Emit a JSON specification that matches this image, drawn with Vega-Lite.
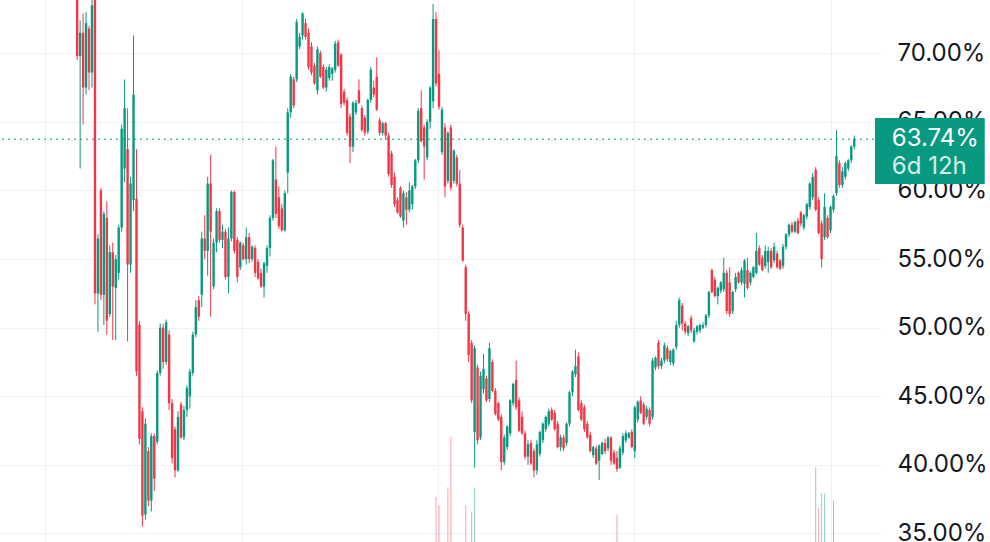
{
"$schema":"https://vega.github.io/schema/vega-lite/v6.json",
"autosize":{"type":"none"},
"width":880,"height":542,
"padding":{"left":0,"top":0,"right":110,"bottom":0},
"background":"#ffffff",
"config":{"view":{"stroke":null},"font":"Inter"},
"datasets":{
"candles":[
{"t":0,"o":74.5,"h":75,"l":69.5,"c":69.8},{"t":1,"o":69.8,"h":72.4,"l":61.6,"c":71.5},{"t":2,"o":71.5,"h":72.9,"l":64.8,"c":67.5},{"t":3,"o":67.5,"h":73.0,"l":67.0,"c":72.2},{"t":4,"o":71.8,"h":72.0,"l":67.3,"c":68.6},{"t":5,"o":68.6,"h":74.5,"l":67.5,"c":73.5},{"t":6,"o":74.5,"h":75,"l":51.7,"c":52.5},{"t":7,"o":52.5,"h":56.8,"l":49.7,"c":56.5},{"t":8,"o":60.0,"h":60.2,"l":52.0,"c":52.4},{"t":9,"o":52.4,"h":58.5,"l":50.2,"c":58.3},
{"t":10,"o":58.0,"h":59.2,"l":49.5,"c":50.5},{"t":11,"o":51.0,"h":56.0,"l":50.8,"c":55.5},{"t":12,"o":55.5,"h":56.2,"l":49.1,"c":53.0},{"t":13,"o":52.9,"h":55.3,"l":49.1,"c":55.0},{"t":14,"o":54.0,"h":57.5,"l":53.5,"c":57.3},{"t":15,"o":57.3,"h":64.8,"l":57.0,"c":64.5},{"t":16,"o":61.6,"h":68.1,"l":60.6,"c":66.0},{"t":17,"o":63.0,"h":66.0,"l":49.0,"c":54.6},{"t":18,"o":54.6,"h":61.0,"l":54.0,"c":60.5},{"t":19,"o":59.3,"h":71.3,"l":58.5,"c":67.0},
{"t":20,"o":59.4,"h":63.0,"l":46.5,"c":46.8},{"t":21,"o":50.2,"h":50.5,"l":41.5,"c":41.9},{"t":22,"o":43.9,"h":44.2,"l":35.5,"c":36.3},{"t":23,"o":36.4,"h":43.4,"l":36.0,"c":43.0},{"t":24,"o":41.0,"h":41.3,"l":37.0,"c":37.4},{"t":25,"o":37.4,"h":42.3,"l":36.6,"c":42.1},{"t":26,"o":42.1,"h":42.3,"l":38.1,"c":39.0},{"t":27,"o":41.7,"h":46.9,"l":41.5,"c":46.7},{"t":28,"o":46.7,"h":50.3,"l":46.5,"c":50.0},{"t":29,"o":50.0,"h":50.3,"l":47.0,"c":47.5},
{"t":30,"o":47.5,"h":50.6,"l":47.3,"c":50.4},{"t":31,"o":49.5,"h":49.8,"l":44.0,"c":44.5},{"t":32,"o":44.5,"h":44.8,"l":40.1,"c":40.5},{"t":33,"o":42.6,"h":42.8,"l":39.1,"c":39.6},{"t":34,"o":39.6,"h":43.9,"l":39.5,"c":43.5},{"t":35,"o":44.4,"h":44.6,"l":41.9,"c":42.0},{"t":36,"o":42.0,"h":44.3,"l":41.8,"c":44.0},{"t":37,"o":44.0,"h":45.8,"l":43.5,"c":45.6},{"t":38,"o":45.0,"h":47.0,"l":44.1,"c":46.8},{"t":39,"o":46.7,"h":49.7,"l":46.5,"c":49.5},
{"t":40,"o":49.5,"h":52.0,"l":49.3,"c":51.5},{"t":41,"o":52.0,"h":52.3,"l":50.5,"c":50.8},{"t":42,"o":52.4,"h":57.0,"l":51.5,"c":56.5},{"t":43,"o":56.5,"h":58.2,"l":55.0,"c":55.6},{"t":44,"o":55.6,"h":61.0,"l":53.8,"c":60.5},{"t":45,"o":60.5,"h":62.6,"l":50.8,"c":57.0},{"t":46,"o":53.0,"h":56.5,"l":52.8,"c":56.2},{"t":47,"o":56.2,"h":58.7,"l":55.5,"c":58.5},{"t":48,"o":58.5,"h":58.7,"l":56.2,"c":56.4},{"t":49,"o":56.4,"h":57.5,"l":55.8,"c":57.0},
{"t":50,"o":57.0,"h":57.2,"l":53.5,"c":53.7},{"t":51,"o":53.7,"h":57.3,"l":52.5,"c":56.5},{"t":52,"o":56.5,"h":60.0,"l":56.3,"c":59.9},{"t":53,"o":59.9,"h":60.0,"l":55.4,"c":55.6},{"t":54,"o":56.4,"h":56.6,"l":53.3,"c":53.7},{"t":55,"o":54.4,"h":56.3,"l":54.2,"c":56.2},{"t":56,"o":56.0,"h":56.2,"l":54.9,"c":55.0},{"t":57,"o":55.0,"h":57.3,"l":54.6,"c":56.6},{"t":58,"o":56.6,"h":56.9,"l":54.7,"c":55.0},{"t":59,"o":55.0,"h":56.0,"l":54.8,"c":55.9},
{"t":60,"o":55.8,"h":56.0,"l":53.7,"c":54.0},{"t":61,"o":54.8,"h":55.0,"l":53.5,"c":53.6},{"t":62,"o":54.0,"h":54.3,"l":52.9,"c":53.0},{"t":63,"o":53.0,"h":54.8,"l":52.2,"c":54.7},{"t":64,"o":54.5,"h":56.0,"l":54.0,"c":55.8},{"t":65,"o":55.8,"h":58.2,"l":55.2,"c":58.0},{"t":66,"o":58.0,"h":62.3,"l":57.8,"c":62.2},{"t":67,"o":60.8,"h":63.2,"l":58.0,"c":58.3},{"t":68,"o":59.5,"h":60.3,"l":57.2,"c":57.4},{"t":69,"o":58.7,"h":59.0,"l":57.0,"c":57.1},
{"t":70,"o":57.1,"h":60.0,"l":57.0,"c":59.8},{"t":71,"o":61.3,"h":66.0,"l":59.8,"c":65.7},{"t":72,"o":65.7,"h":68.5,"l":65.3,"c":68.3},{"t":73,"o":68.1,"h":68.3,"l":66.0,"c":66.2},{"t":74,"o":68.1,"h":72.5,"l":67.9,"c":72.3},{"t":75,"o":70.5,"h":71.5,"l":70.3,"c":71.2},{"t":76,"o":71.3,"h":73.0,"l":71.0,"c":72.9},{"t":77,"o":72.2,"h":72.5,"l":71.0,"c":71.2},{"t":78,"o":71.5,"h":71.8,"l":68.8,"c":69.0},{"t":79,"o":70.5,"h":70.8,"l":68.4,"c":68.6},
{"t":80,"o":69.1,"h":69.3,"l":67.7,"c":67.8},{"t":81,"o":67.3,"h":70.5,"l":67.0,"c":70.3},{"t":82,"o":70.0,"h":70.2,"l":68.2,"c":68.3},{"t":83,"o":69.0,"h":69.2,"l":67.4,"c":67.5},{"t":84,"o":67.5,"h":69.0,"l":67.2,"c":68.8},{"t":85,"o":68.2,"h":69.2,"l":68.0,"c":69.0},{"t":86,"o":68.5,"h":69.0,"l":68.0,"c":68.9},{"t":87,"o":68.8,"h":70.9,"l":68.6,"c":70.7},{"t":88,"o":70.8,"h":71.0,"l":69.0,"c":69.1},{"t":89,"o":69.9,"h":70.0,"l":66.0,"c":66.3},
{"t":90,"o":67.2,"h":67.4,"l":66.2,"c":66.4},{"t":91,"o":66.6,"h":66.8,"l":64.0,"c":64.2},{"t":92,"o":65.4,"h":65.6,"l":62.0,"c":63.2},{"t":93,"o":63.2,"h":66.5,"l":62.8,"c":66.4},{"t":94,"o":65.7,"h":66.6,"l":65.5,"c":66.4},{"t":95,"o":67.3,"h":68.1,"l":66.3,"c":66.4},{"t":96,"o":66.0,"h":66.2,"l":64.3,"c":64.4},{"t":97,"o":65.3,"h":65.5,"l":64.0,"c":64.2},{"t":98,"o":64.3,"h":66.7,"l":64.1,"c":66.6},{"t":99,"o":66.6,"h":69.0,"l":66.4,"c":68.8},
{"t":100,"o":67.5,"h":68.0,"l":66.8,"c":67.0},{"t":101,"o":68.3,"h":69.7,"l":65.8,"c":65.9},{"t":102,"o":65.1,"h":65.3,"l":64.0,"c":64.2},{"t":103,"o":64.2,"h":65.0,"l":64.0,"c":64.9},{"t":104,"o":64.9,"h":65.0,"l":63.7,"c":64.0},{"t":105,"o":64.0,"h":64.2,"l":61.0,"c":61.2},{"t":106,"o":62.7,"h":62.9,"l":60.2,"c":60.4},{"t":107,"o":61.0,"h":61.3,"l":58.8,"c":59.0},{"t":108,"o":59.3,"h":59.5,"l":58.3,"c":58.4},{"t":109,"o":60.2,"h":60.3,"l":58.0,"c":58.1},
{"t":110,"o":57.8,"h":60.0,"l":57.3,"c":59.8},{"t":111,"o":59.5,"h":59.9,"l":57.5,"c":58.6},{"t":112,"o":58.6,"h":60.6,"l":58.4,"c":60.0},{"t":113,"o":59.0,"h":60.4,"l":58.6,"c":60.3},{"t":114,"o":60.3,"h":62.3,"l":60.1,"c":62.2},{"t":115,"o":62.2,"h":66.0,"l":62.0,"c":65.8},{"t":116,"o":66.0,"h":67.3,"l":63.5,"c":63.6},{"t":117,"o":64.6,"h":64.8,"l":60.8,"c":63.2},{"t":118,"o":62.4,"h":65.2,"l":62.2,"c":65.0},{"t":119,"o":65.0,"h":67.6,"l":64.5,"c":67.5},
{"t":120,"o":66.5,"h":73.6,"l":66.0,"c":72.5},{"t":121,"o":72.5,"h":73.0,"l":67.6,"c":67.8},{"t":122,"o":68.5,"h":70.2,"l":65.9,"c":66.1},{"t":123,"o":62.8,"h":66.1,"l":62.6,"c":65.9},{"t":124,"o":64.6,"h":64.9,"l":59.5,"c":60.3},{"t":125,"o":60.7,"h":64.3,"l":60.5,"c":64.2},{"t":126,"o":64.6,"h":64.8,"l":60.0,"c":60.2},{"t":127,"o":60.7,"h":63.0,"l":60.5,"c":62.9},{"t":128,"o":62.4,"h":62.6,"l":60.3,"c":60.5},{"t":129,"o":60.5,"h":61.5,"l":57.3,"c":57.5},
{"t":130,"o":57.3,"h":57.5,"l":54.8,"c":54.9},{"t":131,"o":54.4,"h":54.6,"l":50.5,"c":51.0},{"t":132,"o":51.0,"h":51.2,"l":47.5,"c":48.0},{"t":133,"o":48.9,"h":49.1,"l":44.5,"c":44.7},{"t":134,"o":42.4,"h":48.7,"l":39.8,"c":48.5},{"t":135,"o":47.1,"h":47.3,"l":41.5,"c":41.8},{"t":136,"o":42.0,"h":46.8,"l":41.8,"c":46.5},{"t":137,"o":45.5,"h":48.1,"l":45.2,"c":47.0},{"t":138,"o":46.3,"h":46.5,"l":44.6,"c":44.7},{"t":139,"o":44.8,"h":48.9,"l":44.6,"c":48.5},
{"t":140,"o":47.5,"h":47.7,"l":45.3,"c":45.4},{"t":141,"o":45.4,"h":45.6,"l":43.6,"c":43.7},{"t":142,"o":44.5,"h":44.6,"l":43.2,"c":43.3},{"t":143,"o":43.5,"h":43.7,"l":39.6,"c":40.2},{"t":144,"o":40.2,"h":42.2,"l":40.0,"c":42.0},{"t":145,"o":41.3,"h":42.9,"l":41.1,"c":42.8},{"t":146,"o":42.3,"h":44.8,"l":42.1,"c":44.7},{"t":147,"o":44.5,"h":46.0,"l":44.3,"c":45.9},{"t":148,"o":46.2,"h":47.6,"l":44.0,"c":44.2},{"t":149,"o":44.7,"h":44.9,"l":42.4,"c":42.5},
{"t":150,"o":43.5,"h":43.9,"l":42.2,"c":42.3},{"t":151,"o":42.3,"h":42.5,"l":40.4,"c":40.6},{"t":152,"o":40.6,"h":41.8,"l":40.0,"c":41.5},{"t":153,"o":41.6,"h":41.8,"l":40.0,"c":40.1},{"t":154,"o":41.0,"h":41.2,"l":39.1,"c":39.6},{"t":155,"o":39.6,"h":41.8,"l":39.3,"c":41.5},{"t":156,"o":40.8,"h":42.5,"l":40.6,"c":42.4},{"t":157,"o":41.8,"h":43.1,"l":41.6,"c":43.0},{"t":158,"o":42.6,"h":43.6,"l":42.4,"c":43.5},{"t":159,"o":43.0,"h":44.1,"l":42.8,"c":43.9},
{"t":160,"o":44.0,"h":44.2,"l":43.2,"c":43.3},{"t":161,"o":43.8,"h":44.0,"l":42.5,"c":42.6},{"t":162,"o":43.0,"h":43.2,"l":41.2,"c":41.3},{"t":163,"o":41.3,"h":42.2,"l":41.0,"c":42.0},{"t":164,"o":42.0,"h":42.2,"l":41.0,"c":41.2},{"t":165,"o":41.6,"h":43.1,"l":41.4,"c":43.0},{"t":166,"o":43.0,"h":45.4,"l":42.8,"c":45.3},{"t":167,"o":45.3,"h":46.9,"l":45.0,"c":46.8},{"t":168,"o":46.6,"h":48.4,"l":46.4,"c":47.2},{"t":169,"o":47.9,"h":48.2,"l":43.9,"c":44.0},
{"t":170,"o":44.5,"h":44.7,"l":43.2,"c":43.3},{"t":171,"o":44.2,"h":44.4,"l":42.4,"c":42.6},{"t":172,"o":43.0,"h":43.2,"l":41.9,"c":42.0},{"t":173,"o":42.2,"h":42.4,"l":40.9,"c":41.0},{"t":174,"o":40.7,"h":41.4,"l":40.5,"c":41.3},{"t":175,"o":41.2,"h":41.4,"l":40.0,"c":40.1},{"t":176,"o":40.3,"h":41.5,"l":38.9,"c":41.4},{"t":177,"o":40.8,"h":41.7,"l":40.7,"c":41.6},{"t":178,"o":41.6,"h":41.9,"l":40.8,"c":41.0},{"t":179,"o":41.2,"h":42.1,"l":41.0,"c":42.0},
{"t":180,"o":42.0,"h":42.1,"l":40.0,"c":40.3},{"t":181,"o":40.9,"h":41.1,"l":40.0,"c":40.1},{"t":182,"o":40.5,"h":41.0,"l":39.5,"c":39.7},{"t":183,"o":39.8,"h":41.4,"l":39.7,"c":41.2},{"t":184,"o":40.9,"h":42.3,"l":40.7,"c":42.1},{"t":185,"o":41.8,"h":42.5,"l":41.6,"c":42.3},{"t":186,"o":42.0,"h":42.4,"l":41.9,"c":42.3},{"t":187,"o":42.4,"h":42.6,"l":41.2,"c":41.3},{"t":188,"o":41.0,"h":44.3,"l":40.5,"c":44.2},{"t":189,"o":43.3,"h":44.7,"l":43.1,"c":44.6},
{"t":190,"o":44.7,"h":45.0,"l":43.7,"c":43.8},{"t":191,"o":44.4,"h":44.6,"l":42.9,"c":43.0},{"t":192,"o":43.5,"h":44.3,"l":43.3,"c":44.1},{"t":193,"o":44.0,"h":44.2,"l":42.8,"c":43.0},{"t":194,"o":43.5,"h":47.8,"l":43.3,"c":47.6},{"t":195,"o":47.1,"h":47.9,"l":46.9,"c":47.8},{"t":196,"o":48.9,"h":49.1,"l":47.0,"c":47.2},{"t":197,"o":47.2,"h":47.8,"l":47.0,"c":47.6},{"t":198,"o":47.6,"h":48.9,"l":47.4,"c":48.7},{"t":199,"o":48.5,"h":48.7,"l":47.5,"c":47.7},
{"t":200,"o":47.5,"h":48.4,"l":47.3,"c":48.3},{"t":201,"o":47.4,"h":48.5,"l":47.2,"c":48.4},{"t":202,"o":48.6,"h":50.5,"l":48.4,"c":50.2},{"t":203,"o":50.2,"h":52.2,"l":50.0,"c":52.0},{"t":204,"o":51.6,"h":51.8,"l":49.8,"c":50.3},{"t":205,"o":50.3,"h":50.5,"l":49.5,"c":49.7},{"t":206,"o":49.6,"h":50.2,"l":49.4,"c":50.1},{"t":207,"o":50.7,"h":50.9,"l":49.6,"c":49.8},{"t":208,"o":49.0,"h":50.0,"l":48.9,"c":49.8},{"t":209,"o":49.7,"h":50.2,"l":49.5,"c":50.1},
{"t":210,"o":49.8,"h":50.3,"l":49.6,"c":50.2},{"t":211,"o":50.0,"h":50.4,"l":49.9,"c":50.2},{"t":212,"o":50.2,"h":51.0,"l":50.0,"c":50.9},{"t":213,"o":50.9,"h":52.7,"l":50.7,"c":52.6},{"t":214,"o":54.2,"h":54.3,"l":52.5,"c":52.6},{"t":215,"o":53.5,"h":53.7,"l":52.2,"c":52.3},{"t":216,"o":52.3,"h":53.0,"l":51.7,"c":52.9},{"t":217,"o":52.7,"h":53.4,"l":52.5,"c":53.3},{"t":218,"o":52.8,"h":55.1,"l":52.6,"c":54.0},{"t":219,"o":54.0,"h":54.2,"l":51.0,"c":51.2},
{"t":220,"o":53.3,"h":54.4,"l":50.8,"c":51.0},{"t":221,"o":51.2,"h":52.7,"l":51.0,"c":52.6},{"t":222,"o":52.8,"h":54.0,"l":52.6,"c":53.7},{"t":223,"o":54.0,"h":54.1,"l":53.2,"c":53.3},{"t":224,"o":53.3,"h":54.4,"l":53.1,"c":54.2},{"t":225,"o":53.2,"h":55.0,"l":52.2,"c":54.9},{"t":226,"o":54.2,"h":55.1,"l":52.8,"c":52.9},{"t":227,"o":53.3,"h":54.1,"l":53.1,"c":54.0},{"t":228,"o":53.7,"h":54.5,"l":53.6,"c":54.4},{"t":229,"o":54.0,"h":56.9,"l":53.9,"c":55.6},
{"t":230,"o":55.8,"h":56.0,"l":54.5,"c":54.6},{"t":231,"o":55.1,"h":55.3,"l":54.1,"c":54.2},{"t":232,"o":54.5,"h":56.0,"l":54.3,"c":55.6},{"t":233,"o":54.8,"h":55.9,"l":54.0,"c":55.6},{"t":234,"o":55.6,"h":55.8,"l":54.3,"c":54.4},{"t":235,"o":54.9,"h":56.2,"l":54.7,"c":55.9},{"t":236,"o":55.4,"h":55.6,"l":54.3,"c":54.4},{"t":237,"o":54.9,"h":55.0,"l":54.2,"c":54.3},{"t":238,"o":54.5,"h":56.1,"l":54.3,"c":55.9},{"t":239,"o":55.9,"h":56.9,"l":55.7,"c":56.8},
{"t":240,"o":56.8,"h":57.6,"l":56.6,"c":57.5},{"t":241,"o":57.5,"h":57.7,"l":56.9,"c":57.0},{"t":242,"o":57.0,"h":57.8,"l":56.9,"c":57.7},{"t":243,"o":57.8,"h":58.0,"l":56.8,"c":56.9},{"t":244,"o":58.4,"h":58.5,"l":57.4,"c":57.6},{"t":245,"o":57.3,"h":58.3,"l":57.1,"c":58.2},{"t":246,"o":58.1,"h":59.1,"l":57.9,"c":59.0},{"t":247,"o":58.8,"h":60.6,"l":58.6,"c":60.5},{"t":248,"o":59.5,"h":61.3,"l":59.3,"c":61.0},{"t":249,"o":61.5,"h":61.7,"l":58.5,"c":58.6},
{"t":250,"o":59.3,"h":59.5,"l":56.8,"c":56.9},{"t":251,"o":57.6,"h":57.8,"l":54.4,"c":55.0},{"t":252,"o":56.6,"h":59.8,"l":56.4,"c":58.8},{"t":253,"o":58.0,"h":58.2,"l":56.5,"c":56.6},{"t":254,"o":57.1,"h":58.9,"l":56.9,"c":58.8},{"t":255,"o":58.6,"h":59.7,"l":58.4,"c":59.6},{"t":256,"o":59.8,"h":64.4,"l":59.6,"c":62.5},{"t":257,"o":62.0,"h":62.2,"l":60.2,"c":60.4},{"t":258,"o":60.4,"h":61.7,"l":60.2,"c":61.4},{"t":259,"o":61.0,"h":62.1,"l":60.8,"c":62.0},
{"t":260,"o":61.6,"h":62.3,"l":61.4,"c":62.2},{"t":261,"o":62.2,"h":63.3,"l":62.0,"c":63.2},{"t":262,"o":63.2,"h":64.0,"l":63.0,"c":63.74}
],
"volume":[
{"t":121,"v":8.3,"s":"down"},{"t":122,"v":6.8,"s":"down"},{"t":125,"v":10.1,"s":"down"},{"t":126,"v":19.4,"s":"down"},{"t":131,"v":6.8,"s":"down"},{"t":133,"v":5.5,"s":"down"},{"t":134,"v":10,"s":"up"},{"t":182,"v":5,"s":"down"},{"t":249,"v":13.8,"s":"up"},{"t":250,"v":6.3,"s":"down"},{"t":251,"v":9,"s":"down"},{"t":252,"v":9,"s":"up"},{"t":255,"v":7.7,"s":"up"}
]
},
"layer":[
{"data":{"name":"volume"},
 "mark":{"type":"bar","size":1,"opacity":0.45,"clip":true},
 "encoding":{
  "x":{"field":"t","type":"quantitative","scale":{"domain":[-24.3333,269],"nice":false,"zero":false},"axis":{"grid":true,"gridColor":"#eff1f4","labels":false,"ticks":false,"domain":false,"title":null,"values":[-11,55.67,121.67,187.67,254]}},
  "y":{"field":"v","type":"quantitative","scale":{"domain":[0,100]},"axis":null},
  "color":{"field":"s","type":"nominal","scale":{"domain":["up","down"],"range":["#089981","#F23645"]},"legend":null}
 }},
{"layer":[
  {"data":{"name":"candles"},
   "mark":{"type":"rule","strokeWidth":1,"clip":true},
   "encoding":{
    "x":{"field":"t","type":"quantitative","scale":{"domain":[-24.3333,269],"nice":false,"zero":false},"axis":{"grid":true,"gridColor":"#eff1f4","labels":false,"ticks":false,"domain":false,"title":null,"values":[-11,55.67,121.67,187.67,254]}},
    "y":{"field":"l","type":"quantitative","scale":{"domain":[34.38,73.885],"nice":false,"zero":false},
     "axis":{"orient":"right","values":[35,40,45,50,55,60,65,70],"labelExpr":"format(datum.value, '.2f') + '%'","grid":true,"gridColor":"#eff1f4","domain":false,"ticks":false,"labelPadding":17,"labelFontSize":24,"labelFont":"Inter","labelColor":"#131722","title":null,"labelAlign":"left","labelBaseline":"middle","labelBound":false,"labelOverlap":false,"labelFlush":false}},
    "y2":{"field":"h"},
    "color":{"condition":{"test":"datum.c >= datum.o","value":"#089981"},"value":"#F23645"}
   }},
  {"data":{"name":"candles"},
   "mark":{"type":"bar","size":2.4,"clip":true},
   "encoding":{
    "x":{"field":"t","type":"quantitative"},
    "y":{"field":"o","type":"quantitative"},
    "y2":{"field":"c"},
    "color":{"condition":{"test":"datum.c >= datum.o","value":"#089981"},"value":"#F23645"}
   }},
  {"data":{"values":[{"p":63.74}]},
   "mark":{"type":"rule","color":"#089981","strokeWidth":1,"strokeDash":[2,4]},
   "encoding":{"y":{"field":"p","type":"quantitative"}}},
  {"data":{"values":[{"p":63.74}]},
   "mark":{"type":"rect","color":"#089981","clip":false},
   "encoding":{"x":{"datum":269},"x2":{"datum":306},"y":{"datum":65.28},"y2":{"datum":60.47}}},
  {"data":{"values":[{"p":63.74,"label":"63.74%"}]},
   "mark":{"type":"text","align":"left","baseline":"middle","fontSize":24,"font":"Inter","color":"#ffffff","clip":false},
   "encoding":{"x":{"datum":274.67},"y":{"field":"p","type":"quantitative"},"text":{"field":"label"}}},
  {"data":{"values":[{"p":63.74,"label":"6d 12h"}]},
   "mark":{"type":"text","align":"left","baseline":"middle","fontSize":24,"font":"Inter","color":"#d4f0e9","dy":28,"clip":false},
   "encoding":{"x":{"datum":274.67},"y":{"field":"p","type":"quantitative"},"text":{"field":"label"}}}
 ]}
],
"resolve":{"scale":{"y":"independent"}}
}
